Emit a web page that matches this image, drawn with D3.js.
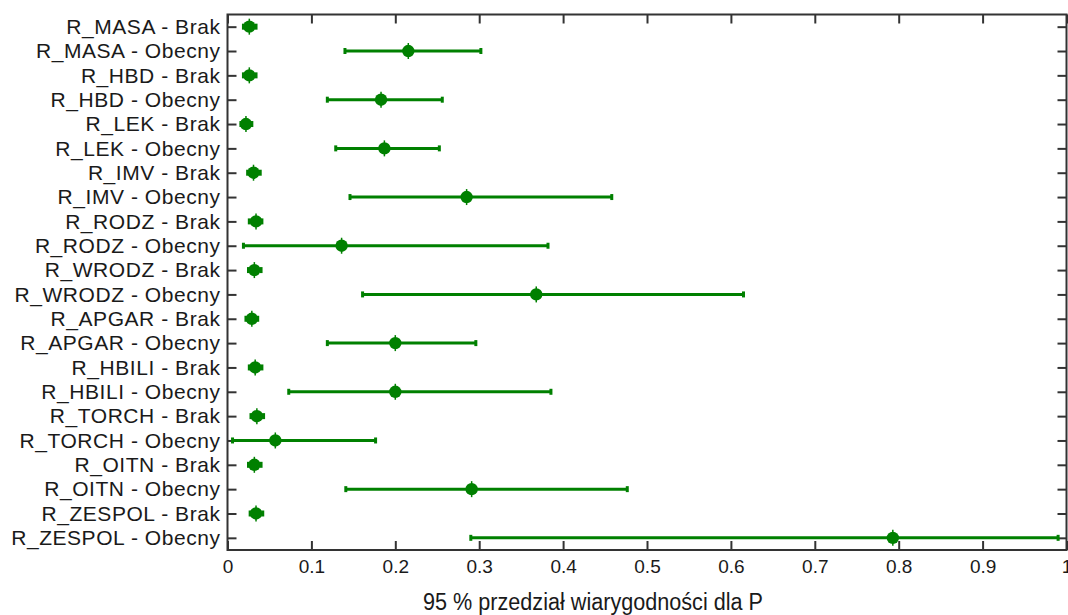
<!DOCTYPE html>
<meta charset="utf-8">
<style>
body { margin: 0; background: #fff; }
svg text { font-family: "Liberation Sans", Arial, sans-serif; fill: #1a1a1a; }
</style>
<body>
<script src="https://cdn.jsdelivr.net/npm/d3@7"></script>
<script>

// row labels, top to bottom
var labels = [
  "R_MASA - Brak", "R_MASA - Obecny",
  "R_HBD - Brak", "R_HBD - Obecny",
  "R_LEK - Brak", "R_LEK - Obecny",
  "R_IMV - Brak", "R_IMV - Obecny",
  "R_RODZ - Brak", "R_RODZ - Obecny",
  "R_WRODZ - Brak", "R_WRODZ - Obecny",
  "R_APGAR - Brak", "R_APGAR - Obecny",
  "R_HBILI - Brak", "R_HBILI - Obecny",
  "R_TORCH - Brak", "R_TORCH - Obecny",
  "R_OITN - Brak", "R_OITN - Obecny",
  "R_ZESPOL - Brak", "R_ZESPOL - Obecny"
];

// point estimate and 95% interval
var est = [0.026, 0.2155, 0.026, 0.183, 0.022, 0.187, 0.031, 0.285, 0.034, 0.136, 0.032, 0.368,
           0.029, 0.200, 0.033, 0.200, 0.035, 0.057, 0.032, 0.291, 0.034, 0.793];
var lower = [0.019, 0.140, 0.019, 0.119, 0.016, 0.129, 0.024, 0.146, 0.026, 0.019, 0.025, 0.161,
             0.022, 0.119, 0.026, 0.073, 0.028, 0.006, 0.025, 0.141, 0.027, 0.290];
var upper = [0.034, 0.302, 0.034, 0.256, 0.029, 0.2525, 0.039, 0.458, 0.041, 0.382, 0.040, 0.615,
             0.036, 0.296, 0.041, 0.3855, 0.043, 0.1765, 0.040, 0.4765, 0.042, 0.990];

var xTicks = [0, 0.1, 0.2, 0.3, 0.4, 0.5, 0.6, 0.7, 0.8, 0.9, 1];
var xTitle = "95 % przedział wiarygodności dla P";

// plot box (top is a reserved window property, so use a margin object)
var W = 1068, H = 615;
var box = {left: 227.5, right: 1066.5, top: 14.5, bottom: 550};
var green = "#008000", axisCol = "#333";

var rows = labels.map(function(l, i) {
  return {label: l, est: est[i], lo: lower[i], hi: upper[i]};
});

var x = d3.scaleLinear().domain([0, 1]).range([box.left, box.right]);
var y = d3.scalePoint().domain(labels).range([box.top, box.bottom]).padding(0.5);

var svg = d3.select("body").append("svg")
    .attr("width", W)
    .attr("height", H);

// bottom axis with labels, ticks pointing in
var xb = svg.append("g")
    .attr("transform", "translate(0," + box.bottom + ")")
    .call(d3.axisBottom(x).tickValues(xTicks).tickSizeInner(-9).tickSizeOuter(0).tickPadding(10)
      .tickFormat(function(d) { return d3.format("")(d); }));
xb.selectAll("text").style("font-size", "19px").attr("fill", "#222");

// top axis, ticks only
svg.append("g")
    .attr("transform", "translate(0," + box.top + ")")
    .call(d3.axisTop(x).tickValues(xTicks).tickSizeInner(-9).tickSizeOuter(0).tickFormat(""));

// left axis with row names
var yl = svg.append("g")
    .attr("transform", "translate(" + box.left + ",0)")
    .call(d3.axisLeft(y).tickSizeInner(-9).tickSizeOuter(0).tickPadding(7));
yl.selectAll("text").style("font-size", "21px").style("letter-spacing", "0.55px").attr("fill", "#222");

// right axis, ticks only
svg.append("g")
    .attr("transform", "translate(" + box.right + ",0)")
    .call(d3.axisRight(y).tickSizeInner(-9).tickSizeOuter(0).tickFormat(""));

svg.selectAll(".domain").remove();
svg.selectAll(".tick line").attr("stroke", axisCol).attr("stroke-width", 2);

// frame
svg.append("rect")
    .attr("x", box.left).attr("y", box.top)
    .attr("width", box.right - box.left).attr("height", box.bottom - box.top)
    .attr("fill", "none").attr("stroke", axisCol).attr("stroke-width", 2);

// error bars
var bars = svg.append("g").selectAll("g.bar").data(rows).enter().append("g").attr("class", "bar");

bars.append("line")
    .attr("x1", function(d) { return x(d.lo); })
    .attr("x2", function(d) { return x(d.hi); })
    .attr("y1", function(d) { return y(d.label); })
    .attr("y2", function(d) { return y(d.label); })
    .attr("stroke", green).attr("stroke-width", 3);

// end caps
bars.selectAll("line.cap")
    .data(function(d) { return [{v: d.lo, r: d.label}, {v: d.hi, r: d.label}]; })
  .enter().append("line")
    .attr("class", "cap")
    .attr("x1", function(d) { return x(d.v); })
    .attr("x2", function(d) { return x(d.v); })
    .attr("y1", function(d) { return y(d.r) - 3; })
    .attr("y2", function(d) { return y(d.r) + 3; })
    .attr("stroke", green).attr("stroke-width", 3);

// point markers
bars.append("line")
    .attr("x1", function(d) { return x(d.est); })
    .attr("x2", function(d) { return x(d.est); })
    .attr("y1", function(d) { return y(d.label) - 8; })
    .attr("y2", function(d) { return y(d.label) + 8; })
    .attr("stroke", green).attr("stroke-width", 1.5);

bars.append("circle")
    .attr("cx", function(d) { return x(d.est); })
    .attr("cy", function(d) { return y(d.label); })
    .attr("r", 6.2)
    .attr("fill", green);

// x title
svg.append("text")
    .attr("x", 593)
    .attr("y", 610)
    .attr("text-anchor", "middle")
    .attr("textLength", 340)
    .attr("lengthAdjust", "spacingAndGlyphs")
    .style("font-size", "23px")
    .attr("fill", "#111")
    .text(xTitle);

</script>
</body>
